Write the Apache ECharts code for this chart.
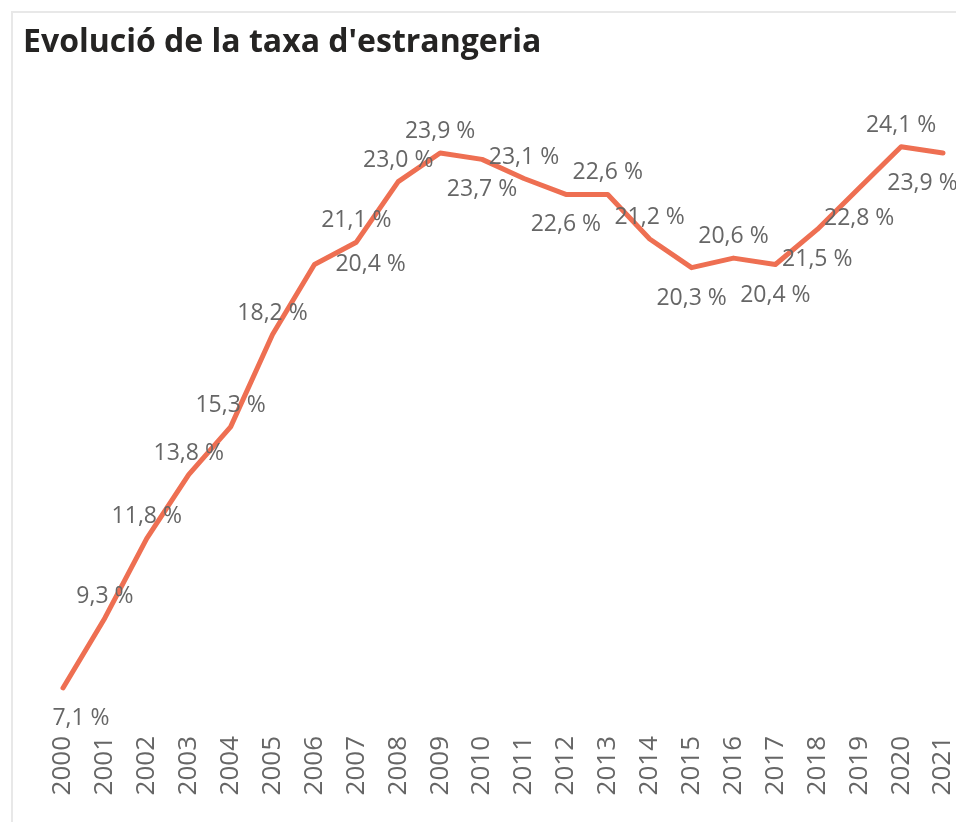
<!DOCTYPE html>
<html>
<head>
<meta charset="utf-8">
<script src="https://cdn.jsdelivr.net/npm/echarts@6/dist/echarts.min.js"></script>
<style>
    html, body { margin: 0; padding: 0; background: #fff; overflow: hidden; }
    .frame {
        position: absolute; left: 11px; top: 11px; width: 1000px; height: 900px;
        border-left: 2px solid #e8e8e8; border-top: 2px solid #e8e8e8;
    }
    #chartLine { position: absolute; left: 0; top: 0; width: 956px; height: 822px; }
</style>
</head>
<body>
<div class="frame"></div>
<div id="chartLine"></div>
<script>
    // anys i taxa d'estrangeria (%)
    var years = ['2000','2001','2002','2003','2004','2005','2006','2007','2008','2009','2010',
                 '2011','2012','2013','2014','2015','2016','2017','2018','2019','2020','2021'];
    var taxa = [7.1, 9.3, 11.8, 13.8, 15.3, 18.2, 20.4, 21.1, 23.0, 23.9, 23.7,
                23.1, 22.6, 22.6, 21.2, 20.3, 20.6, 20.4, 21.5, 22.8, 24.1, 23.9];

    // on va cada etiqueta (com ho col·loca Power BI)
    var labelPos = ['bottom','top','top','top','top','top','right','top','top','top','bottom',
                    'top','bottom','top','top','bottom','top','bottom','bottom','bottom','top','bottom'];

    var chart = echarts.init(document.getElementById('chartLine'));

    var seriesData = taxa.map(function (v, i) {
        var p = labelPos[i];
        var lbl = { position: p, distance: p === 'bottom' ? 19 : (p === 'right' ? 21 : 10) };
        // desplaçaments fets amb padding (offset no s'aplica per punt)
        if (i === 0) lbl.padding = [0, 0, 0, 36];
        if (i === 6) lbl.padding = [18, 0, 0, 0];
        if (i === taxa.length - 1) lbl.padding = [0, 41, 0, 0];
        return { value: v, label: lbl };
    });

    chart.setOption({
        animation: false,
        title: {
            text: "Evolució de la taxa d'estrangeria",
            left: 18,
            top: 22,
            textStyle: {
                fontFamily: 'Open Sans',
                fontWeight: 'bold',
                fontSize: 32,
                color: '#252423'
            }
        },
        grid: { left: 63, right: 8, top: 118, bottom: 99 },
        xAxis: {
            type: 'category',
            boundaryGap: false,
            data: years,
            axisLine: { show: false },
            axisTick: { show: false },
            axisLabel: {
                rotate: 90,
                margin: 13,
                interval: 0,
                fontFamily: 'Open Sans',
                fontSize: 26,
                color: '#666666'
            }
        },
        yAxis: {
            type: 'value',
            min: 6,
            max: 25,
            show: false,
            splitLine: { show: false }
        },
        series: [{
            type: 'line',
            data: seriesData,
            symbol: 'circle',
            symbolSize: 0,
            lineStyle: { color: '#EE6F52', width: 5, cap: 'round', join: 'round' },
            itemStyle: { color: '#EE6F52' },
            label: {
                show: true,
                fontFamily: 'Open Sans',
                fontSize: 23,
                color: '#666666',
                formatter: function (p) {
                    return p.value.toFixed(1).replace('.', ',') + ' %';
                }
            },
            labelLayout: { hideOverlap: false }
        }]
    });
</script>
</body>
</html>
